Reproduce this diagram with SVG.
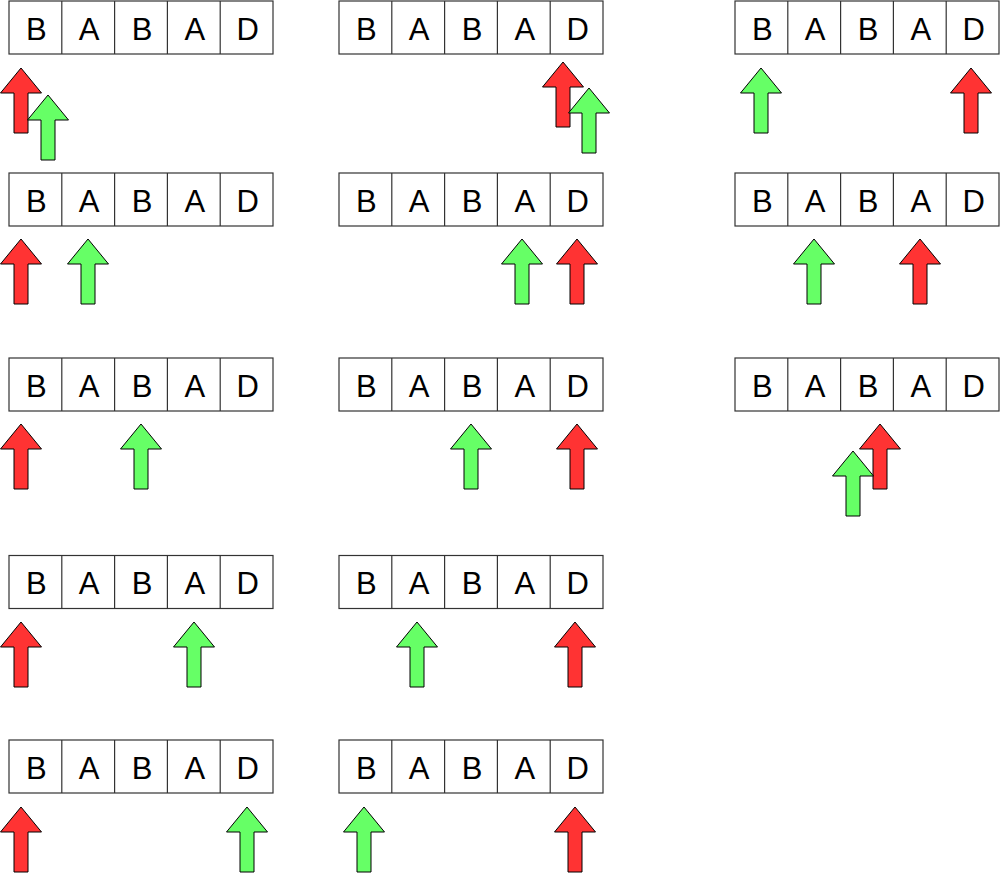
<svg xmlns="http://www.w3.org/2000/svg" xmlns:xlink="http://www.w3.org/1999/xlink" width="1000" height="873" viewBox="0 0 1000 873">
<style>
.cell{fill:#fff;stroke:#333;stroke-width:1.2}
.t{font-family:"Liberation Sans",Arial,sans-serif;font-size:31px;fill:#000;text-anchor:middle}
.red{fill:#ff3333;stroke:#000;stroke-width:1}
.green{fill:#66ff66;stroke:#000;stroke-width:1}
</style>
<defs>
<g id="row">
<rect class="cell" x="0" y="0" width="264" height="53"/>
<path d="M52.8,0V53M105.6,0V53M158.4,0V53M211.2,0V53" stroke="#333" stroke-width="1.2" fill="none"/>
<text class="t" x="27.4" y="38.5">B</text>
<text class="t" x="80.2" y="38.5">A</text>
<text class="t" x="133" y="38.5">B</text>
<text class="t" x="185.8" y="38.5">A</text>
<text class="t" x="238.6" y="38.5">D</text>
</g>
<path id="arrow" d="M0,0L20.5,25L7,25L7,65L-7,65L-7,25L-20.5,25Z"/>
</defs>
<rect width="1000" height="873" fill="#fff"/>
<g id="c1r1"><use xlink:href="#row" x="9" y="1"/><use xlink:href="#arrow" class="red" x="21" y="68"/><use xlink:href="#arrow" class="green" x="48" y="95"/></g>
<g id="c1r2"><use xlink:href="#row" x="9" y="173"/><use xlink:href="#arrow" class="red" x="21" y="239"/><use xlink:href="#arrow" class="green" x="88" y="239"/></g>
<g id="c1r3"><use xlink:href="#row" x="9" y="358"/><use xlink:href="#arrow" class="red" x="21" y="424"/><use xlink:href="#arrow" class="green" x="141" y="424"/></g>
<g id="c1r4"><use xlink:href="#row" x="9" y="555.5"/><use xlink:href="#arrow" class="red" x="21" y="622"/><use xlink:href="#arrow" class="green" x="194" y="622"/></g>
<g id="c1r5"><use xlink:href="#row" x="9" y="740"/><use xlink:href="#arrow" class="red" x="21" y="807"/><use xlink:href="#arrow" class="green" x="247" y="807"/></g>
<g id="c2r1"><use xlink:href="#row" x="339" y="1"/><use xlink:href="#arrow" class="red" x="563" y="62"/><use xlink:href="#arrow" class="green" x="589" y="88"/></g>
<g id="c2r2"><use xlink:href="#row" x="339" y="173"/><use xlink:href="#arrow" class="green" x="522" y="239"/><use xlink:href="#arrow" class="red" x="577" y="239"/></g>
<g id="c2r3"><use xlink:href="#row" x="339" y="358"/><use xlink:href="#arrow" class="green" x="471" y="424"/><use xlink:href="#arrow" class="red" x="577" y="424"/></g>
<g id="c2r4"><use xlink:href="#row" x="339" y="555.5"/><use xlink:href="#arrow" class="green" x="417" y="622"/><use xlink:href="#arrow" class="red" x="575" y="622"/></g>
<g id="c2r5"><use xlink:href="#row" x="339" y="740"/><use xlink:href="#arrow" class="green" x="364" y="807"/><use xlink:href="#arrow" class="red" x="575" y="807"/></g>
<g id="c3r1"><use xlink:href="#row" x="735" y="1"/><use xlink:href="#arrow" class="green" x="761" y="68"/><use xlink:href="#arrow" class="red" x="971" y="68"/></g>
<g id="c3r2"><use xlink:href="#row" x="735" y="173"/><use xlink:href="#arrow" class="green" x="814" y="239"/><use xlink:href="#arrow" class="red" x="920" y="239"/></g>
<g id="c3r3"><use xlink:href="#row" x="735" y="358"/><use xlink:href="#arrow" class="red" x="880" y="424"/><use xlink:href="#arrow" class="green" x="853" y="451"/></g>
<g id="connectors"></g>
</svg>
